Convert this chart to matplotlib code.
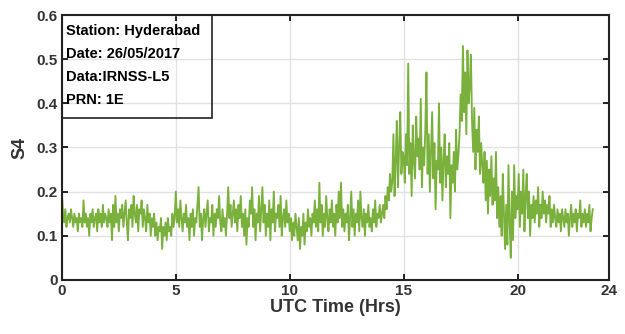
import numpy as np
import matplotlib
matplotlib.use("Agg")
import matplotlib.pyplot as plt
from matplotlib.patches import Rectangle

plt.rcParams['font.family'] = ['Liberation Sans Narrow', 'Liberation Sans', 'DejaVu Sans']

# S4 index sampled every 3 minutes (0.05 h) from 00:00 UTC
step_hrs = 0.05

s4_00_05 = [
    0.20, 0.15, 0.13, 0.16, 0.12, 0.14, 0.15, 0.13, 0.16, 0.14,
    0.12, 0.15, 0.13, 0.14, 0.11, 0.15, 0.13, 0.14, 0.12, 0.18,
    0.13, 0.15, 0.12, 0.14, 0.10, 0.15, 0.13, 0.16, 0.12, 0.14,
    0.15, 0.11, 0.16, 0.13, 0.15, 0.12, 0.17, 0.13, 0.15, 0.14,
    0.12, 0.16, 0.13, 0.15, 0.09, 0.17, 0.12, 0.19, 0.13, 0.15,
    0.11, 0.16, 0.14, 0.17, 0.12, 0.15, 0.18, 0.13, 0.09, 0.16,
    0.14, 0.17, 0.12, 0.19, 0.15, 0.13, 0.17, 0.11, 0.16, 0.15,
    0.18, 0.12, 0.16, 0.14, 0.11, 0.17, 0.13, 0.15, 0.10, 0.14,
    0.12, 0.15, 0.10, 0.13, 0.09, 0.12, 0.11, 0.14, 0.07, 0.12,
    0.10, 0.13, 0.09, 0.14, 0.11, 0.12, 0.10, 0.15, 0.12, 0.14,
]

s4_05_10 = [
    0.20, 0.13, 0.16, 0.12, 0.18, 0.14, 0.11, 0.15, 0.13, 0.17,
    0.12, 0.14, 0.09, 0.15, 0.12, 0.16, 0.10, 0.14, 0.13, 0.17,
    0.21, 0.12, 0.15, 0.09, 0.14, 0.16, 0.12, 0.15, 0.18, 0.11,
    0.14, 0.13, 0.17, 0.10, 0.15, 0.12, 0.16, 0.14, 0.19, 0.13,
    0.11, 0.16, 0.12, 0.14, 0.10, 0.15, 0.21, 0.14, 0.17, 0.12,
    0.15, 0.18, 0.13, 0.16, 0.11, 0.17, 0.14, 0.19, 0.12, 0.15,
    0.10, 0.16, 0.08, 0.14, 0.12, 0.18, 0.15, 0.21, 0.12, 0.16,
    0.09, 0.15, 0.13, 0.19, 0.11, 0.16, 0.21, 0.13, 0.17, 0.10,
    0.15, 0.12, 0.18, 0.09, 0.16, 0.13, 0.20, 0.11, 0.15, 0.14,
    0.17, 0.12, 0.19, 0.10, 0.14, 0.16, 0.12, 0.18, 0.13, 0.15,
]

s4_10_15 = [
    0.11, 0.14, 0.09, 0.13, 0.10, 0.15, 0.12, 0.09, 0.14, 0.07,
    0.12, 0.10, 0.15, 0.08, 0.13, 0.11, 0.16, 0.12, 0.14, 0.10,
    0.15, 0.13, 0.18, 0.12, 0.16, 0.11, 0.22, 0.13, 0.17, 0.10,
    0.15, 0.12, 0.19, 0.14, 0.11, 0.16, 0.13, 0.18, 0.12, 0.15,
    0.10, 0.17, 0.13, 0.20, 0.14, 0.22, 0.12, 0.16, 0.11, 0.15,
    0.13, 0.17, 0.09, 0.14, 0.20, 0.12, 0.16, 0.10, 0.15, 0.13,
    0.18, 0.11, 0.20, 0.14, 0.12, 0.16, 0.10, 0.15, 0.13, 0.17,
    0.12, 0.14, 0.11, 0.16, 0.13, 0.18, 0.12, 0.15, 0.14, 0.17,
    0.13, 0.15, 0.17, 0.14, 0.19, 0.16, 0.21, 0.18, 0.24, 0.20,
    0.22, 0.33, 0.19, 0.27, 0.36, 0.21, 0.30, 0.38, 0.24, 0.29,
]

s4_15_20 = [
    0.28, 0.22, 0.33, 0.26, 0.49, 0.24, 0.31, 0.19, 0.35, 0.27,
    0.23, 0.37, 0.28, 0.32, 0.25, 0.41, 0.21, 0.30, 0.26, 0.34,
    0.47, 0.24, 0.33, 0.20, 0.29, 0.38, 0.23, 0.31, 0.16, 0.27,
    0.25, 0.40, 0.22, 0.30, 0.18, 0.27, 0.33, 0.21, 0.28, 0.24,
    0.31, 0.14, 0.26, 0.22, 0.29, 0.20, 0.34, 0.25, 0.28, 0.33,
    0.42, 0.36, 0.53, 0.38, 0.47, 0.33, 0.52, 0.40, 0.44, 0.51,
    0.36, 0.29, 0.39, 0.25, 0.34, 0.29, 0.37, 0.24, 0.31, 0.26,
    0.22, 0.29, 0.18, 0.27, 0.15, 0.25, 0.19, 0.28, 0.17, 0.23,
    0.18, 0.29, 0.14, 0.21, 0.12, 0.19, 0.10, 0.24, 0.15, 0.07,
    0.17, 0.08, 0.26, 0.13, 0.05, 0.20, 0.09, 0.26, 0.14, 0.19,
]

s4_20_24 = [
    0.16, 0.24, 0.12, 0.20, 0.15, 0.25, 0.11, 0.19, 0.24, 0.14,
    0.20, 0.10, 0.17, 0.14, 0.19, 0.13, 0.18, 0.15, 0.21, 0.12,
    0.17, 0.14, 0.20, 0.15, 0.18, 0.13, 0.17, 0.15, 0.19, 0.12,
    0.16, 0.13, 0.17, 0.14, 0.12, 0.16, 0.13, 0.15, 0.11, 0.16,
    0.14, 0.12, 0.16, 0.13, 0.15, 0.10, 0.14, 0.17, 0.12, 0.15,
    0.13, 0.16, 0.11, 0.15, 0.14, 0.18, 0.12, 0.15, 0.13, 0.16,
    0.12, 0.15, 0.13, 0.17, 0.11, 0.14, 0.16,
]

x_ticks = [0, 5, 10, 15, 20, 24]
y_ticks = [0, 0.1, 0.2, 0.3, 0.4, 0.5, 0.6]
info_lines = ["Station: Hyderabad", "Date: 26/05/2017", "Data:IRNSS-L5", "PRN: 1E"]

s4 = np.array(s4_00_05 + s4_05_10 + s4_10_15 + s4_15_20 + s4_20_24)
utc = np.arange(len(s4)) * step_hrs

fig = plt.figure(figsize=(6.25, 3.34), dpi=100)
ax = fig.add_axes([0.099, 0.162, 0.875, 0.793])

ax.plot(utc, s4, color='#7ab13c', linewidth=1.35)

ax.set_xlim(0, 24)
ax.set_ylim(0, 0.6)
ax.set_xticks(x_ticks)
ax.set_yticks(y_ticks)
ax.set_xticklabels([str(v) for v in x_ticks], fontsize=11, fontweight='bold', color='#333333')
ax.set_yticklabels(['0'] + [f"{v:.1f}" for v in y_ticks[1:]], fontsize=11,
                   fontweight='bold', color='#333333')
ax.grid(True, color='#e2e2e2', linewidth=1.0)
ax.set_axisbelow(True)
ax.tick_params(direction='in', length=4, width=1.2, top=True, right=True, pad=3)
for sp in ax.spines.values():
    sp.set_linewidth(1.5)
    sp.set_color('#222222')

ax.set_xlabel("UTC Time (Hrs)", fontsize=13, fontweight='bold', color='#333333', labelpad=1)
ax.set_ylabel("S4", fontsize=13, fontweight='bold', color='#333333', labelpad=6)

# info box in the upper-left corner
box_w, box_h = 0.274, 0.389
ax.add_patch(Rectangle((0, 1 - box_h), box_w, box_h, transform=ax.transAxes,
                       fill=False, edgecolor='#222222', linewidth=1.2, zorder=5))
for i, line in enumerate(info_lines):
    ax.text(0.008, 0.94 - i * 0.087, line, transform=ax.transAxes, fontsize=10.5,
            fontweight='bold', color='black', va='center', ha='left', zorder=6)

fig.savefig("out.png", dpi=100)
